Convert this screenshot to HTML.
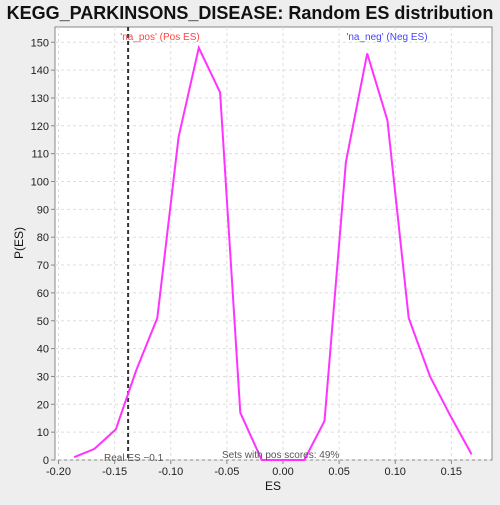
<!DOCTYPE html>
<html><head><meta charset="utf-8"><style>
body{margin:0;background:#eeeeee;width:500px;height:500px;overflow:hidden;font-family:"Liberation Sans",sans-serif}
</style></head><body>
<svg width="500" height="500" xmlns="http://www.w3.org/2000/svg">
<text x="250" y="19" text-anchor="middle" font-size="18" font-weight="bold" fill="#111">KEGG_PARKINSONS_DISEASE: Random ES distribution</text>
<rect x="55" y="27" width="437" height="433" fill="#fff" stroke="#888"/>
<g id="grid"></g><g id="axes"></g><g id="marks"></g>
<text x="273" y="490" text-anchor="middle" font-size="12" fill="#111">ES</text>
<text x="23" y="243" text-anchor="middle" font-size="12" fill="#111" transform="rotate(-90 23 243)">P(ES)</text>
<text x="160" y="40" text-anchor="middle" font-size="10" fill="#ff4444">'na_pos' (Pos ES)</text>
<text x="387" y="40" text-anchor="middle" font-size="10" fill="#4444ff">'na_neg' (Neg ES)</text>
<text x="104" y="461" font-size="10" fill="#555">Real ES −0.1</text>
<text x="222" y="458" font-size="10" fill="#555">Sets with pos scores: 49%</text>
</svg>
<script>
const xTicks=[-0.2,-0.15,-0.1,-0.05,0,0.05,0.1,0.15];
const yTicks=[0,10,20,30,40,50,60,70,80,90,100,110,120,130,140,150];
const esValues=[-0.186,-0.168,-0.149,-0.131,-0.112,-0.093,-0.075,-0.056,-0.038,-0.019,0.019,0.037,0.056,0.075,0.093,0.112,0.131,0.149,0.168];
const pValues=[1,4,11,32,51,116,148,132,17,0,0,14,107,146,122,51,30,16,2];
const realES=-0.138;
const X=v=>283+v*1122.4, Y=v=>460-v*2.785;
const NS="http://www.w3.org/2000/svg";
function mk(tag,attrs,parent,text){const e=document.createElementNS(NS,tag);for(const k in attrs)e.setAttribute(k,attrs[k]);if(text!==undefined)e.textContent=text;document.getElementById(parent).appendChild(e);return e;}
xTicks.forEach(t=>{const x=X(t);
const g=mk('line',{x1:x,x2:x,y1:27,y2:460,stroke:'#ddd','stroke-dasharray':'3,3'},'grid');


const tk=mk('line',{x1:x,x2:x,y1:460,y2:464,stroke:'#888'},'axes');


const l=mk('text',{x:x,y:475,'text-anchor':'middle','font-size':'11',fill:'#222'},'axes',t.toFixed(2));

});
yTicks.forEach(t=>{const y=Y(t);
const g=mk('line',{x1:55,x2:492,y1:y,y2:y,stroke:'#ddd','stroke-dasharray':'3,3'},'grid');


const tk=mk('line',{x1:51,x2:55,y1:y,y2:y,stroke:'#888'},'axes');


const l=mk('text',{x:49,y:y+4,'text-anchor':'end','font-size':'11',fill:'#222'},'axes',String(t));

});
const rl=mk('line',{x1:X(realES),x2:X(realES),y1:27,y2:460,stroke:'#333','stroke-width':'2','stroke-dasharray':'4,3'},'marks');


const pts=esValues.map((v,i)=>X(v).toFixed(1)+','+Y(pValues[i]).toFixed(1)).join(' ');
const pl=mk('polyline',{points:pts,fill:'none',stroke:'#ff33ff','stroke-width':'2'},'marks');


</script>
</body></html>
